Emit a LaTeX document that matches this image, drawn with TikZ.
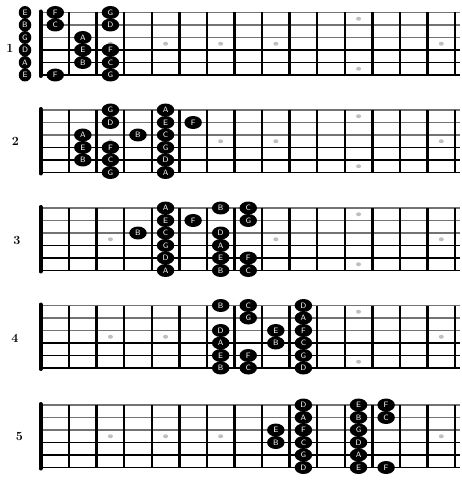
\documentclass[tikz,border=0pt]{standalone}
\usetikzlibrary{shapes.geometric}
\tikzset{every picture/.style = {x=1pt, y=-1pt}}
\tikzset{note/.style = {fill, shape=ellipse, minimum width=17.5, minimum height=13,
    inner sep=0, text=white, font=\sffamily\fontsize{7.8}{8}\selectfont}}
\tikzset{inlay/.style = {fill=black!25, shape=ellipse, minimum width=5, minimum height=4, inner sep=0}}
\tikzset{fret/.style = {line width=2.4}}
\tikzset{nut/.style = {line width=4, line cap=round}}
\tikzset{treble/.style = {black!55, line width=1.1}}
\tikzset{bass/.style = {black, line width=1.5}}
\tikzset{num/.style = {font=\bfseries\fontsize{12.5}{13}\selectfont}}

\begin{document}
\begin{tikzpicture}
  \useasboundingbox (0,0) rectangle (461,494);
  % five empty fretboards
  \foreach \d/\top in {1/12.5, 2/110, 3/208, 4/305.5, 5/405} {
    \begin{scope}[shift={(0,\top)}]
      \foreach \s in {0,1,2}
        \draw[treble] (41.5, 12.5*\s) -- (460, 12.5*\s);
      \foreach \s in {3,4,5}
        \draw[bass] (41.5, 12.5*\s) -- (460, 12.5*\s);
      \foreach \k in {1,...,15}
        \draw[fret] ({41.5+27.57*\k}, 0) -- ++(0, 62.5);
      \draw[nut] (40.5, -1) -- (40.5, 63.5);
      \foreach \k in {3,5,7,9,15}
        \node[inlay] (dot\d-\k) at ({27.7+27.57*\k}, 31.25) {};
      \node[inlay] (dot\d-12a) at ({27.7+27.57*12}, 6.25) {};
      \node[inlay] (dot\d-12b) at ({27.7+27.57*12}, 56.25) {};
    \end{scope}
  }
  \node[num] (num1) at (10, 48) {1};
  \node[num] (num2) at (15.5, 141.5) {2};
  \node[num] (num3) at (17, 240) {3};
  \node[num] (num4) at (15, 338) {4};
  \node[num] (num5) at (19.5, 436.5) {5};

  % 1
  \begin{scope}[shift={(0,12.5)}]
    \foreach \s/\nm in {1/E, 2/B, 3/G, 4/D, 5/A, 6/E}
      \node[note, minimum width=12.5] (d1-0-\s) at (25, {12.5*(\s-1)}) {\nm\hspace{3pt}};
    \foreach \k/\s/\nm in {1/1/F, 1/2/C, 1/6/F, 2/3/A, 2/4/E, 2/5/B,
        3/1/G, 3/2/D, 3/4/F, 3/5/C, 3/6/G}
      \node[note] (d1-\k-\s) at ({27.7+27.57*\k}, {12.5*(\s-1)}) {\nm\hspace{5pt}};
  \end{scope}

  % 2
  \begin{scope}[shift={(0,110)}]
    \foreach \k/\s/\nm in {2/3/A, 2/4/E, 2/5/B, 3/1/G, 3/2/D, 3/4/F, 3/5/C, 3/6/G,
        4/3/B, 5/1/A, 5/2/E, 5/3/C, 5/4/G, 5/5/D, 5/6/A, 6/2/F}
      \node[note] (d2-\k-\s) at ({27.7+27.57*\k}, {12.5*(\s-1)}) {\nm\hspace{5pt}};
  \end{scope}

  % 3
  \begin{scope}[shift={(0,208)}]
    \foreach \k/\s/\nm in {4/3/B, 5/1/A, 5/2/E, 5/3/C, 5/4/G, 5/5/D, 5/6/A, 6/2/F,
        7/1/B, 7/3/D, 7/4/A, 7/5/E, 7/6/B, 8/1/C, 8/2/G, 8/5/F, 8/6/C}
      \node[note] (d3-\k-\s) at ({27.7+27.57*\k}, {12.5*(\s-1)}) {\nm\hspace{5pt}};
  \end{scope}

  % 4
  \begin{scope}[shift={(0,305.5)}]
    \foreach \k/\s/\nm in {7/1/B, 7/3/D, 7/4/A, 7/5/E, 7/6/B, 8/1/C, 8/2/G, 8/5/F, 8/6/C,
        9/3/E, 9/4/B, 10/1/D, 10/2/A, 10/3/F, 10/4/C, 10/5/G, 10/6/D}
      \node[note] (d4-\k-\s) at ({27.7+27.57*\k}, {12.5*(\s-1)}) {\nm\hspace{5pt}};
  \end{scope}

  % 5
  \begin{scope}[shift={(0,405)}]
    \foreach \k/\s/\nm in {9/3/E, 9/4/B, 10/1/D, 10/2/A, 10/3/F, 10/4/C, 10/5/G, 10/6/D,
        12/1/E, 12/2/B, 12/3/G, 12/4/D, 12/5/A, 12/6/E, 13/1/F, 13/2/C, 13/6/F}
      \node[note] (d5-\k-\s) at ({27.7+27.57*\k}, {12.5*(\s-1)}) {\nm\hspace{5pt}};
  \end{scope}
\end{tikzpicture}
\end{document}
